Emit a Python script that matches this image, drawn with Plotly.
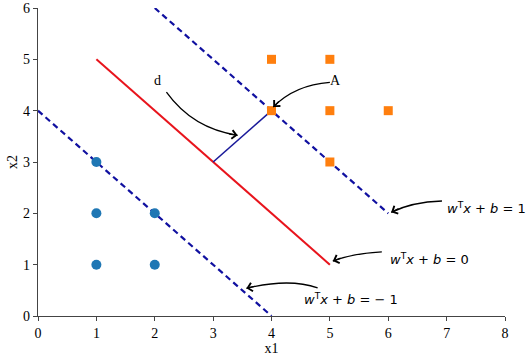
import plotly.graph_objects as go

# Data
class_neg_x = [1, 1, 1, 2, 2]
class_neg_y = [3, 2, 1, 2, 1]
class_pos_x = [4, 5, 4, 5, 6, 5]
class_pos_y = [5, 5, 4, 4, 4, 3]

upper_x = [2, 6]
upper_y = [6, 2]
middle_x = [1, 5]
middle_y = [5, 1]
lower_x = [0, 4]
lower_y = [4, 0]
margin_x = [3, 4]
margin_y = [3, 4]

x_ticks = [0, 1, 2, 3, 4, 5, 6, 7, 8]
y_ticks = [0, 1, 2, 3, 4, 5, 6]

# annotation arrows: (start, control, end)
arrows = [
    ((2.20, 4.36), (2.65, 3.65), (3.42, 3.52)),
    ((5.00, 4.55), (4.40, 4.50), (4.03, 4.07)),
    ((6.92, 2.24), (6.40, 2.22), (6.05, 2.02)),
    ((5.89, 1.25), (5.40, 1.22), (5.05, 1.07)),
    ((4.79, 0.55), (4.30, 0.74), (3.57, 0.54)),
]

labels = [
    ("d", 2.05, 4.59, "center", "serif"),
    ("A", 5.09, 4.59, "center", "serif"),
    ("<i>w</i><sup>T</sup><i>x</i> + <i>b</i> = 1", 6.97, 2.10, "left", "sans"),
    ("<i>w</i><sup>T</sup><i>x</i> + <i>b</i> = 0", 6.0, 1.11, "left", "sans"),
    ("<i>w</i><sup>T</sup><i>x</i> + <i>b</i> = − 1", 4.52, 0.33, "left", "sans"),
]

W, H = 526, 358
ML, MR, MT, MB = 38, 21, 8, 42
px_x = (W - ML - MR) / 8.0
px_y = (H - MT - MB) / 6.0

fig = go.Figure()
fig.add_trace(go.Scatter(x=lower_x, y=lower_y, mode="lines",
                         line=dict(color="#1010a0", width=2.2, dash="6px,4px")))
fig.add_trace(go.Scatter(x=upper_x, y=upper_y, mode="lines",
                         line=dict(color="#1010a0", width=2.2, dash="6px,4px")))
fig.add_trace(go.Scatter(x=middle_x, y=middle_y, mode="lines",
                         line=dict(color="#e8141c", width=2)))
fig.add_trace(go.Scatter(x=margin_x, y=margin_y, mode="lines",
                         line=dict(color="#1a1a9a", width=1.6)))
fig.add_trace(go.Scatter(x=class_neg_x, y=class_neg_y, mode="markers",
                         marker=dict(symbol="circle", size=10, color="#1f77b4")))
fig.add_trace(go.Scatter(x=class_pos_x, y=class_pos_y, mode="markers",
                         marker=dict(symbol="square", size=9, color="#ff7f0e")))

shapes = []
annotations = []
for (s, c, e) in arrows:
    shapes.append(dict(type="path", xref="x", yref="y",
                       path=f"M {s[0]},{s[1]} Q {c[0]},{c[1]} {e[0]},{e[1]}",
                       line=dict(color="black", width=1.3)))
    dx = (c[0] - e[0]) * px_x
    dy = -(c[1] - e[1]) * px_y
    n = (dx * dx + dy * dy) ** 0.5
    L = 10.0
    annotations.append(dict(x=e[0], y=e[1], ax=dx / n * L, ay=dy / n * L,
                            xref="x", yref="y", text="", showarrow=True,
                            arrowhead=4, arrowsize=1.3, arrowwidth=1.3,
                            arrowcolor="black", standoff=0))

for (t, x, y, anc, fam) in labels:
    font = dict(family="Liberation Serif", size=14, color="black") if fam == "serif" \
        else dict(family="DejaVu Sans", size=13, color="black")
    annotations.append(dict(x=x, y=y, xref="x", yref="y", text=t, showarrow=False,
                            xanchor=anc, yanchor="middle", font=font))

axis_common = dict(showgrid=False, zeroline=False, showline=True, linecolor="#444",
                   linewidth=1.3, ticks="outside", ticklen=4, tickcolor="#444",
                   tickfont=dict(family="Liberation Serif", size=14, color="black"),
                   mirror=False, automargin=False)

fig.update_layout(
    width=W, height=H,
    margin=dict(l=ML, r=MR, t=MT, b=MB),
    paper_bgcolor="white", plot_bgcolor="white",
    showlegend=False,
    shapes=shapes, annotations=annotations,
    xaxis=dict(range=[0, 8], tickvals=x_ticks,
               title=dict(text="x1", standoff=2,
                          font=dict(family="Liberation Serif", size=14, color="black")),
               **axis_common),
    yaxis=dict(range=[0, 6], tickvals=y_ticks,
               title=dict(text="x2", standoff=2,
                          font=dict(family="Liberation Serif", size=14, color="black")),
               **axis_common),
)

fig.write_html("out.html", config={"displayModeBar": False},
               post_script="document.body.style.margin='0';document.body.style.overflow='hidden';")
